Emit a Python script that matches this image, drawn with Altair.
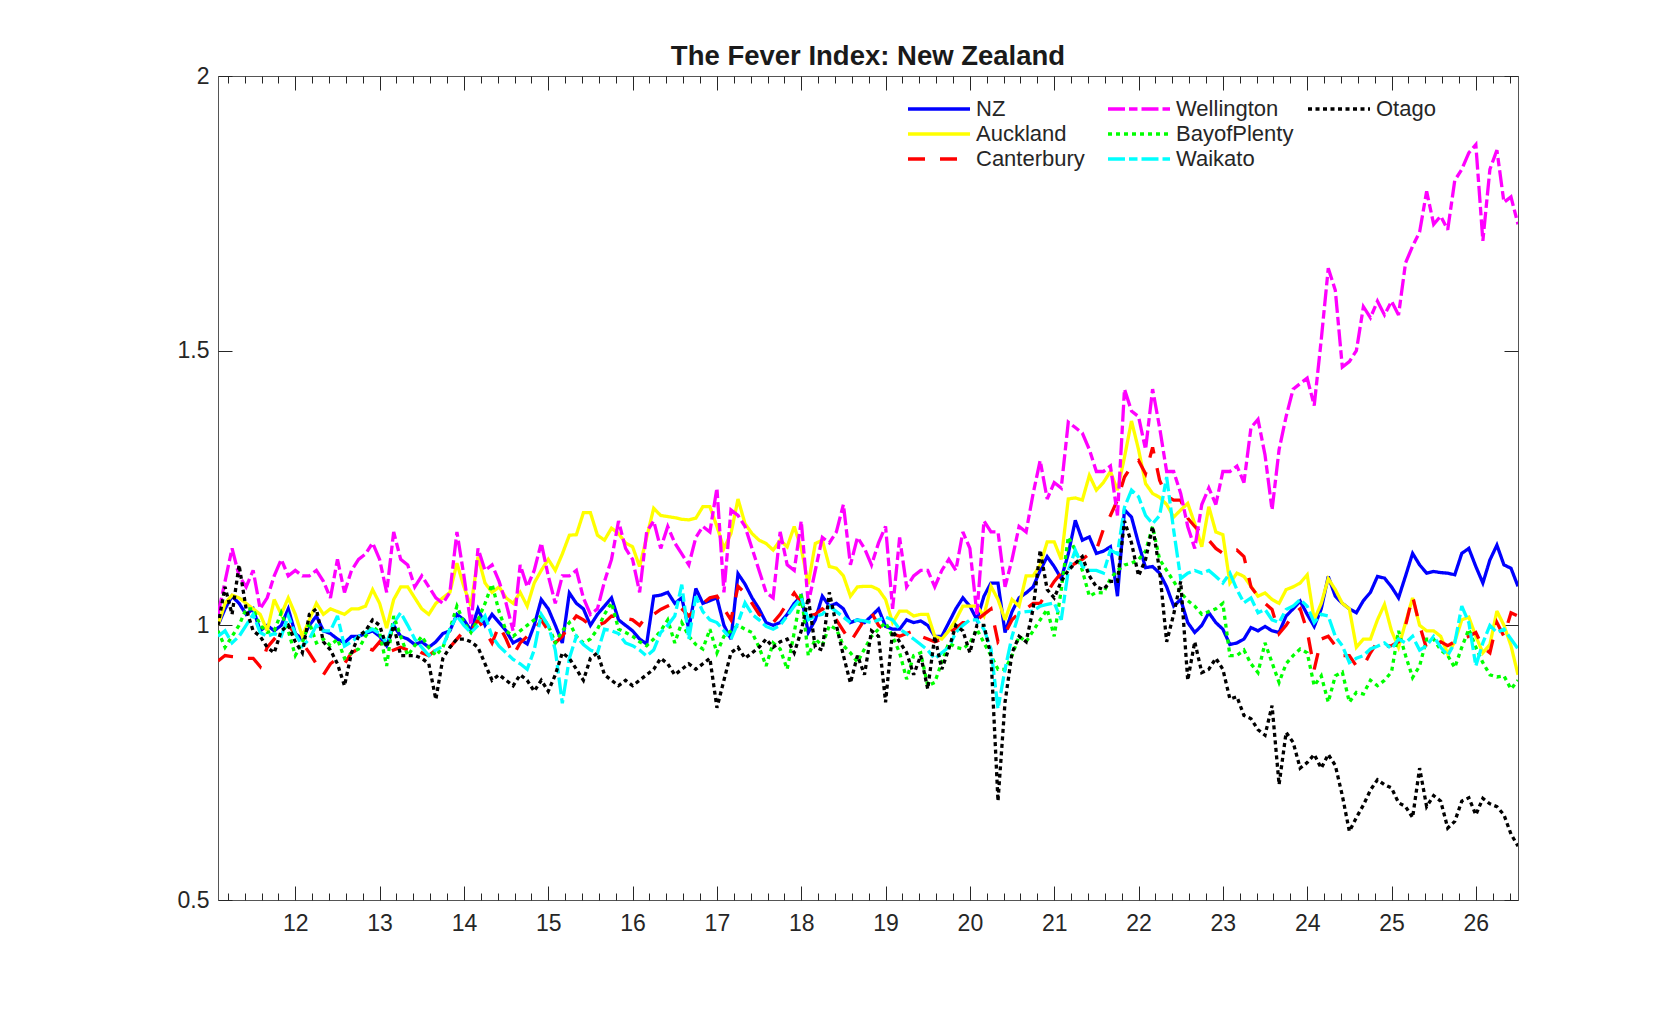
import altair as alt
import pandas as pd

# x axis = year - 2000, monthly observations from Feb 2011 to Jul 2026
N_OBS = 186
T = [round(11 + (i + 1) / 12, 4) for i in range(N_OBS)]

NZ = [
    1.0, 1.03, 1.053, 1.04, 1.02, 1.03, 0.99, 1.0, 0.99, 1.0, 1.03,
    0.985, 0.975, 1.0, 1.017, 0.99, 0.985, 0.975, 0.968, 0.98, 0.98, 0.985, 0.99,
    0.98, 0.963, 1.0, 0.98, 0.975, 0.965, 0.97, 0.96, 0.97, 0.985, 0.99, 1.02,
    1.01, 0.99, 1.03, 1.0, 1.02, 1.005, 0.99, 0.968, 0.975, 0.966, 1.0, 1.047,
    1.03, 1.0, 0.968, 1.059, 1.04, 1.03, 1.0, 1.02, 1.035, 1.05, 1.01, 1.0,
    0.99, 0.975, 0.966, 1.053, 1.055, 1.06, 1.04, 1.05, 0.993, 1.067, 1.04, 1.045,
    1.05, 1.0, 0.975, 1.094, 1.075, 1.05, 1.03, 1.005, 1.0, 1.005, 1.02, 1.04,
    1.053, 0.987, 1.01, 1.053, 1.035, 1.04, 1.03, 1.005, 1.01, 1.005, 1.017, 1.03,
    0.998, 0.993, 0.993, 1.01, 1.005, 1.008, 1.0, 0.98, 0.98, 1.005, 1.03, 1.05,
    1.035, 1.01, 1.053, 1.077, 1.077, 0.987, 1.025, 1.05, 1.059, 1.07, 1.1, 1.125,
    1.107, 1.085, 1.13, 1.191, 1.155, 1.161, 1.131, 1.135, 1.143, 1.053, 1.21, 1.197,
    1.149, 1.105, 1.107, 1.095, 1.07, 1.035, 1.047, 1.005, 0.987, 1.0, 1.023, 1.005,
    0.993, 0.965, 0.968, 0.975, 0.996, 0.99, 0.998, 0.99, 0.987, 1.017, 1.03, 1.044,
    1.02, 0.998, 1.03, 1.089, 1.053, 1.04, 1.03, 1.023, 1.045, 1.06, 1.089, 1.086,
    1.07, 1.05, 1.09, 1.131, 1.11, 1.095, 1.098, 1.096, 1.095, 1.092, 1.131, 1.14,
    1.107, 1.077, 1.119, 1.146, 1.11, 1.104, 1.071,
]

AUCKLAND = [
    1.0, 1.04, 1.055, 1.05, 1.04, 1.03, 1.02, 0.99, 1.047, 1.02, 1.05,
    1.02, 0.98, 1.01, 1.04, 1.02, 1.03, 1.025, 1.02, 1.03, 1.03, 1.035, 1.065,
    1.04, 0.995, 1.047, 1.07, 1.07, 1.05, 1.03, 1.02, 1.04, 1.05, 1.06, 1.113,
    1.07, 1.035, 1.125, 1.077, 1.06, 1.07, 1.05, 1.04, 1.06, 1.035, 1.077, 1.1,
    1.12, 1.1, 1.13, 1.164, 1.165, 1.205, 1.205, 1.164, 1.155, 1.177, 1.167, 1.15,
    1.143, 1.107, 1.16, 1.213, 1.2, 1.198, 1.196, 1.193, 1.192, 1.195, 1.216, 1.216,
    1.18, 1.14, 1.167, 1.23, 1.185, 1.167, 1.155, 1.149, 1.137, 1.155, 1.143, 1.18,
    1.14, 1.075, 1.149, 1.155, 1.107, 1.104, 1.09, 1.053, 1.07, 1.071, 1.071, 1.065,
    1.047, 1.005, 1.026, 1.026, 1.017, 1.02, 1.02, 0.98, 0.975, 0.99, 1.01, 1.035,
    1.035, 1.035, 1.017, 1.071, 1.047, 1.01, 1.047, 1.035, 1.09, 1.09, 1.11, 1.152,
    1.152, 1.12, 1.23, 1.232, 1.228, 1.273, 1.246, 1.26, 1.28, 1.246, 1.306, 1.372,
    1.32, 1.258, 1.24, 1.233, 1.22, 1.197, 1.21, 1.222, 1.185, 1.143, 1.216, 1.17,
    1.165, 1.077, 1.095, 1.089, 1.071, 1.053, 1.059, 1.047, 1.04, 1.065, 1.07, 1.077,
    1.092, 1.01, 1.04, 1.085, 1.065, 1.04, 1.03, 0.96, 0.975, 0.975, 1.01, 1.038,
    0.99, 0.96, 1.005, 1.05, 1.0, 0.99, 0.99, 0.98, 0.948, 0.97, 1.01, 1.015,
    0.98, 0.95, 0.965, 1.026, 1.0, 0.963, 0.91,
]

CANTERBURY = [
    0.935, 0.945, 0.943, 0.942, 0.94, 0.94, 0.925, 0.96, 0.975, 0.99, 1.0,
    0.985, 0.968, 0.95, 0.93, 0.91, 0.93, 0.94, 0.93, 0.95, 0.957, 0.96, 0.955,
    0.97, 0.95, 0.955, 0.96, 0.955, 0.96, 0.95, 0.945, 0.955, 0.957, 0.96, 0.975,
    0.99, 0.99, 1.01, 0.99, 0.968, 1.0, 0.975, 0.945, 0.968, 0.98, 0.99, 1.01,
    0.99, 0.968, 0.98, 1.0, 1.017, 1.01, 1.0, 1.0, 1.005, 1.017, 1.015, 1.013,
    1.01, 1.0, 1.017, 1.02, 1.029, 1.035, 1.041, 1.03, 1.017, 1.03, 1.04, 1.05,
    1.053, 1.03, 1.01, 1.071, 1.059, 1.04, 1.02, 1.01, 1.005, 1.02, 1.04, 1.059,
    1.04, 1.017, 1.02, 1.03, 1.02, 1.01, 0.99, 0.97, 0.99, 1.01, 1.023, 1.0,
    0.99, 0.985, 0.98, 0.985, 0.99, 0.98, 0.975, 0.97, 0.975, 0.985, 0.995, 1.005,
    1.005, 1.01, 1.02, 1.03, 0.97, 0.985, 1.01, 1.023, 1.03, 1.04, 1.04, 1.06,
    1.08, 1.095, 1.105, 1.113, 1.12, 1.13, 1.137, 1.175, 1.2, 1.228, 1.27, 1.29,
    1.3, 1.276, 1.324, 1.264, 1.235, 1.228, 1.228, 1.195, 1.18, 1.167, 1.155, 1.14,
    1.131, 1.135, 1.137, 1.125, 1.07, 1.053, 1.04, 1.029, 0.985, 1.0, 1.02, 1.03,
    0.99, 0.92, 0.975, 0.98, 0.963, 0.945, 0.945, 0.926, 0.926, 0.95, 0.97, 0.962,
    0.963, 0.97, 1.0, 1.053, 1.0, 0.957, 0.965, 0.97, 0.963, 0.97, 0.975, 0.98,
    0.987, 0.96, 0.95, 1.005, 0.98, 1.023, 1.017,
]

WELLINGTON = [
    1.02, 1.08, 1.14, 1.09, 1.07, 1.1, 1.03, 1.05, 1.09, 1.12, 1.09,
    1.1, 1.09, 1.09, 1.1, 1.08, 1.05, 1.12, 1.06, 1.1, 1.12, 1.13, 1.15,
    1.12, 1.06, 1.17, 1.12, 1.11, 1.07, 1.09, 1.07, 1.05, 1.04, 1.06, 1.17,
    1.09, 1.0, 1.14, 1.1, 1.11, 1.08, 1.04, 0.99, 1.11, 1.07, 1.1, 1.15,
    1.09, 1.04, 1.09, 1.09, 1.1, 1.05, 1.02, 1.03, 1.08, 1.12, 1.19, 1.14,
    1.12, 1.06, 1.17, 1.19, 1.14, 1.18, 1.15, 1.13, 1.11, 1.16, 1.18, 1.17,
    1.25, 1.06, 1.21, 1.2, 1.18, 1.14, 1.1, 1.06, 1.05, 1.17, 1.11, 1.1,
    1.19, 1.04, 1.1, 1.16, 1.15, 1.17, 1.22, 1.11, 1.16, 1.14, 1.11, 1.15,
    1.18, 1.03, 1.16, 1.07, 1.09, 1.1, 1.1, 1.07, 1.1, 1.12, 1.1, 1.17,
    1.14, 1.02, 1.19, 1.17, 1.17, 1.07, 1.12, 1.18, 1.17, 1.24, 1.3, 1.23,
    1.26, 1.25, 1.37, 1.36, 1.35, 1.32, 1.28, 1.28, 1.29, 1.2, 1.43, 1.39,
    1.38, 1.32, 1.43, 1.36, 1.28, 1.28, 1.24, 1.18, 1.14, 1.22, 1.25, 1.22,
    1.28, 1.28, 1.29, 1.26, 1.36, 1.375, 1.31, 1.21, 1.32, 1.38, 1.43, 1.44,
    1.45, 1.4, 1.52, 1.65, 1.61, 1.47, 1.48, 1.5, 1.58, 1.56, 1.59, 1.565,
    1.59, 1.565, 1.66, 1.69, 1.716, 1.79, 1.73, 1.745, 1.72, 1.81, 1.83, 1.86,
    1.875, 1.7, 1.83, 1.865, 1.77, 1.78, 1.73,
]

BAYOFPLENTY = [
    0.99, 0.96, 0.98, 1.0, 1.03, 1.03, 1.0, 0.987, 0.99, 1.023, 0.99,
    0.945, 0.968, 1.005, 0.968, 0.975, 0.963, 0.975, 0.94, 0.95, 0.957, 0.98, 0.998,
    0.987, 0.926, 1.017, 0.98, 0.945, 0.963, 0.98, 0.96, 0.945, 0.96, 0.993, 1.035,
    1.005, 0.987, 1.01, 1.04, 1.075, 1.025, 0.99, 0.98, 0.99, 1.0, 1.01, 1.017,
    1.0, 0.968, 0.99, 1.005, 0.98, 0.968, 0.975, 0.993, 1.02, 1.041, 0.993, 0.987,
    0.98, 0.97, 0.963, 0.975, 0.99, 1.01, 0.968, 1.005, 0.98, 0.965, 0.957, 0.993,
    0.95, 0.98, 0.99, 1.0, 0.993, 0.987, 0.96, 0.926, 0.968, 0.957, 0.92, 0.987,
    1.059, 0.945, 0.975, 0.963, 1.0, 0.993, 0.963, 0.95, 0.933, 0.957, 0.98, 0.993,
    1.005, 0.98, 0.95, 0.902, 0.945, 0.95, 0.89, 0.896, 0.933, 0.968, 0.96, 0.957,
    0.968, 0.993, 0.968, 0.945, 0.92, 0.92, 0.945, 0.98, 0.97, 0.99, 1.01, 1.029,
    0.98, 1.065, 1.161, 1.137, 1.1, 1.053, 1.06, 1.059, 1.085, 1.1, 1.11, 1.113,
    1.12, 1.135, 1.18, 1.12, 1.1, 1.08, 1.06, 1.045, 1.035, 1.02, 1.025, 1.03,
    1.04, 0.945, 0.945, 0.955, 0.93, 0.914, 0.968, 0.932, 0.896, 0.93, 0.945, 0.957,
    0.95, 0.89, 0.908, 0.86, 0.908, 0.915, 0.86, 0.878, 0.875, 0.9, 0.89, 0.9,
    0.915, 0.99, 0.945, 0.905, 0.926, 0.975, 0.975, 0.955, 0.945, 0.923, 0.96, 0.993,
    0.96, 0.932, 0.91, 0.906, 0.908, 0.884, 0.9,
]

WAIKATO = [
    0.98, 0.99, 0.968, 0.98, 1.0, 1.02, 0.987, 0.98, 0.985, 0.98, 1.017,
    0.985, 0.962, 0.975, 1.0, 0.99, 0.99, 1.017, 0.962, 0.97, 0.98, 0.987, 0.993,
    0.985, 0.968, 1.004, 1.023, 1.0, 0.975, 0.96, 0.945, 0.955, 0.962, 0.993, 1.017,
    1.0, 0.987, 1.0, 1.017, 0.98, 0.962, 0.95, 0.938, 0.93, 0.92, 0.955, 1.02,
    1.0, 0.955, 0.858, 0.94, 0.98, 0.965, 0.955, 0.95, 0.993, 0.99, 0.985, 0.968,
    0.963, 0.955, 0.944, 0.955, 0.987, 1.0, 1.017, 1.074, 0.975, 1.053, 1.025, 1.01,
    1.005, 0.99, 0.975, 1.005, 1.041, 1.02, 1.01, 0.998, 0.993, 1.0, 1.017, 1.035,
    1.05, 1.01, 1.017, 1.02, 1.035, 1.025, 1.015, 1.005, 1.01, 1.008, 1.005, 1.01,
    1.015, 1.01, 0.993, 0.985, 0.975, 0.965, 0.955, 0.939, 0.95, 0.96, 0.987, 1.0,
    1.01, 1.01, 0.993, 0.957, 0.848, 0.92, 0.98, 1.023, 1.025, 1.026, 1.035, 1.038,
    1.041, 1.01, 1.1, 1.137, 1.107, 1.1, 1.1, 1.095, 1.137, 1.13, 1.215, 1.246,
    1.234, 1.2, 1.185, 1.2, 1.27, 1.173, 1.085, 1.095, 1.1, 1.095, 1.1, 1.089,
    1.077, 1.095, 1.065, 1.041, 1.05, 1.023, 1.029, 1.01, 1.005, 1.029, 1.035, 1.047,
    1.035, 1.005, 1.02, 1.017, 0.98, 0.963, 0.932, 0.94, 0.945, 0.957, 0.962, 0.968,
    0.957, 0.975, 0.968, 0.98, 0.955, 0.963, 0.98, 0.96, 0.945, 0.968, 1.035, 1.005,
    0.926, 0.968, 1.0, 0.987, 0.993, 0.975, 0.957,
]

OTAGO = [
    1.0, 1.07, 1.02, 1.11, 1.03, 0.99, 0.98, 0.96, 0.95, 0.99, 1.0,
    0.97, 0.95, 1.02, 1.03, 0.97, 0.955, 0.93, 0.89, 0.95, 0.98, 0.99, 1.01,
    1.0, 0.96, 1.0, 0.945, 0.945, 0.945, 0.94, 0.93, 0.865, 0.94, 0.96, 0.975,
    0.975, 0.97, 0.96, 0.93, 0.9, 0.91, 0.9, 0.89, 0.91, 0.9, 0.88, 0.9,
    0.88, 0.91, 0.95, 0.94, 0.92, 0.9, 0.94, 0.95, 0.91, 0.9, 0.89, 0.9,
    0.89, 0.9, 0.91, 0.92, 0.94, 0.93, 0.91, 0.92, 0.93, 0.92, 0.93, 0.94,
    0.85, 0.9, 0.95, 0.96, 0.94, 0.95, 0.96, 0.975, 0.96, 0.97, 0.975, 0.95,
    0.99, 1.05, 0.96, 0.955, 1.06, 1.0, 0.945, 0.895, 0.945, 0.91, 0.99, 0.98,
    0.86, 0.99, 0.97, 0.95, 0.91, 0.945, 0.884, 0.98, 0.92, 0.957, 1.0, 0.99,
    0.95, 1.0, 1.0, 0.945, 0.68, 0.86, 0.95, 0.98, 0.97, 1.03, 1.137, 1.065,
    1.05, 1.08, 1.1, 1.113, 1.125, 1.09, 1.07, 1.065, 1.08, 1.08, 1.19, 1.15,
    1.09, 1.12, 1.18, 1.1, 0.97, 1.02, 1.08, 0.9, 0.97, 0.914, 0.92, 0.94,
    0.92, 0.866, 0.87, 0.836, 0.83, 0.81, 0.8, 0.854, 0.71, 0.805, 0.787, 0.74,
    0.75, 0.765, 0.74, 0.765, 0.745, 0.69, 0.625, 0.65, 0.673, 0.7, 0.719, 0.71,
    0.704, 0.677, 0.67, 0.65, 0.74, 0.67, 0.69, 0.68, 0.631, 0.643, 0.68, 0.686,
    0.655, 0.685, 0.675, 0.67, 0.655, 0.62, 0.598,
]

# drawing order (as plotted) == legend order (legend fills column by column)
SERIES = ["NZ", "Auckland", "Canterbury", "Wellington", "BayofPlenty", "Waikato", "Otago"]
COLORS = ["#0000ff", "#ffff00", "#ff0000", "#ff00ff", "#00ff00", "#00ffff", "#000000"]
DASHES = [[1, 0], [1, 0], [17, 15], [17, 4, 8.5, 4], [4, 4], [17, 4, 8.5, 4], [4, 3.5]]
VALUES = {
    "NZ": NZ, "Auckland": AUCKLAND, "Canterbury": CANTERBURY, "Wellington": WELLINGTON,
    "BayofPlenty": BAYOFPLENTY, "Waikato": WAIKATO, "Otago": OTAGO,
}
for name, vals in VALUES.items():
    assert len(vals) == N_OBS, (name, len(vals))

# one empty legend slot so the 3-column legend keeps MATLAB's column-wise layout
LEGEND_DOMAIN = SERIES + [" "]
LEGEND_COLORS = COLORS + ["rgba(0,0,0,0)"]
LEGEND_DASHES = DASHES + [[1, 0]]

X_MAJOR = list(range(12, 27))
X_MINOR = [round(11 + k * 0.2, 1) for k in range(1, 78) if k % 5 != 0]
Y_TICKS = [0.5, 1, 1.5, 2]

rows = []
for s in SERIES:
    for t, v in zip(T, VALUES[s]):
        rows.append({"t": t, "v": v, "series": s})
df = pd.DataFrame(rows)

FONT = "Liberation Sans"
INK = "#262626"

xs = alt.Scale(domain=[T[0], 26.5], nice=False, zero=False)
ys = alt.Scale(domain=[0.5, 2], nice=False, zero=False)


def tick_axis(orient, values, size, labels=False, pad=0):
    kw = dict(
        orient=orient, values=values, tickSize=size, offset=-size, domain=False, grid=False,
        labels=labels, title=None, tickColor=INK, tickWidth=1, ticks=True,
    )
    if labels:
        kw.update(labelFont=FONT, labelFontSize=23, labelColor=INK, labelPadding=pad,
                  format="~g", labelFlush=False, labelOverlap=False)
    return alt.Axis(**kw)


legend = alt.Legend(
    title=None, orient="none", legendX=688, legendY=22, columns=3, columnPadding=12,
    rowPadding=3, gridAlign="all", symbolType="stroke", symbolSize=3844,
    symbolStrokeWidth=3.3, labelFontSize=22, labelFont=FONT, labelColor=INK,
    labelOffset=4, labelLimit=0, clipHeight=22, padding=0,
)
color_scale = alt.Scale(domain=LEGEND_DOMAIN, range=LEGEND_COLORS)
dash_scale = alt.Scale(domain=LEGEND_DOMAIN, range=LEGEND_DASHES)

layers = []
for i, s in enumerate(SERIES):
    first = i == 0
    layers.append(
        alt.Chart(df)
        .transform_filter(alt.datum.series == s)
        .mark_line(strokeWidth=3.3, clip=True, strokeJoin="miter", strokeMiterLimit=3)
        .encode(
            x=alt.X("t:Q", scale=xs, axis=tick_axis("bottom", X_MAJOR, 14, True, 12) if first else None),
            y=alt.Y("v:Q", scale=ys, axis=tick_axis("left", Y_TICKS, 14, True, 9) if first else None),
            color=alt.Color("series:N", scale=color_scale, legend=legend),
            strokeDash=alt.StrokeDash("series:N", scale=dash_scale, legend=legend),
        )
    )


def axis_layer(xaxis, yaxis):
    return (
        alt.Chart(df)
        .transform_filter(alt.datum.series == "NZ")
        .mark_line(opacity=0)
        .encode(x=alt.X("t:Q", scale=xs, axis=xaxis), y=alt.Y("v:Q", scale=ys, axis=yaxis))
    )


layers.append(axis_layer(tick_axis("bottom", X_MINOR, 7), tick_axis("right", Y_TICKS, 14)))
layers.append(axis_layer(tick_axis("top", X_MAJOR, 14), None))
layers.append(axis_layer(tick_axis("top", X_MINOR, 7), None))

chart = (
    alt.layer(*layers)
    .resolve_axis(x="independent", y="independent")
    .properties(
        width=1300,
        height=824,
        title=alt.TitleParams(
            "The Fever Index: New Zealand", fontSize=27.5, fontWeight="bold", font=FONT,
            color="#1a1a1a", anchor="middle", frame="group", offset=-27, baseline="alphabetic",
        ),
        autosize=alt.AutoSizeParams(type="none"),
        padding={"left": 210, "top": 68, "right": 152, "bottom": 96},
    )
    .configure_view(stroke="#555555", strokeWidth=1)
)

chart.save("out.html", embed_options={"renderer": "svg", "actions": False})
